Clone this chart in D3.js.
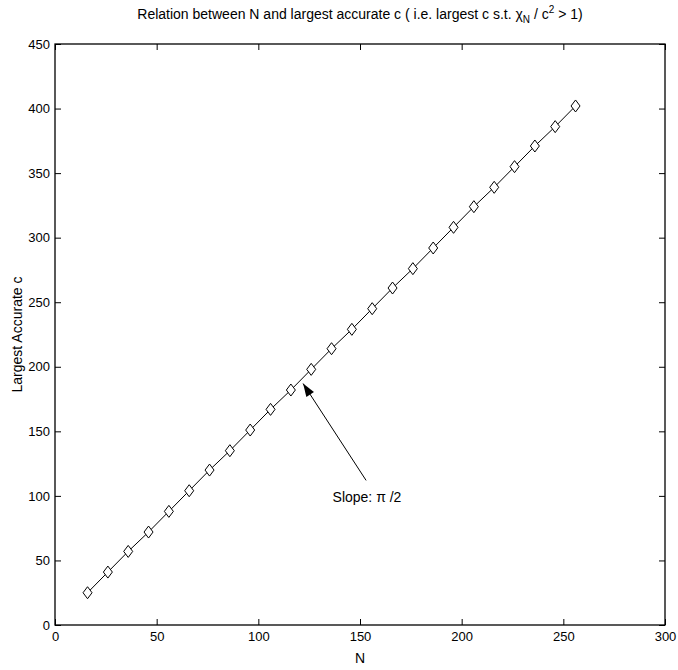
<!DOCTYPE html>
<html><head><meta charset="utf-8">
<script src="https://cdn.jsdelivr.net/npm/d3@7"></script>
<style>body{margin:0;background:#fff}svg{display:block}text{font-family:"Liberation Sans",Arial,sans-serif;fill:#000}</style>
</head><body><svg id="c" width="678" height="670"></svg>
<script>
const Nvals = [16,26,36,46,56,66,76,86,96,106,116,126,136,146,156,166,176,186,196,206,216,226,236,246,256];
const cVals = [25,41,57,72,88,104,120,135,151,167,182,198,214,229,245,261,276,292,308,324,339,355,371,386,402];
const xTicks = [0,50,100,150,200,250,300];
const yTicks = [0,50,100,150,200,250,300,350,400,450];

const W=678,H=670, L=55,R=665,T=44,B=625;
const svg=d3.select("#c");
svg.append("rect").attr("width",W).attr("height",H).attr("fill","#fff");
const x=d3.scaleLinear().domain([0,300]).range([L,R]);
const y=d3.scaleLinear().domain([0,450]).range([B,T]);

svg.append("rect").attr("x",L).attr("y",T).attr("width",R-L).attr("height",B-T)
  .attr("fill","none").attr("stroke","#000").attr("stroke-width",1.3);

const tl=6;
const gx=svg.append("g").attr("transform",`translate(0,${B})`)
  .call(d3.axisBottom(x).tickValues(xTicks).tickSizeInner(-tl).tickSizeOuter(0).tickPadding(7));
const gxt=svg.append("g").attr("transform",`translate(0,${T})`)
  .call(d3.axisTop(x).tickValues(xTicks).tickSizeInner(-tl).tickSizeOuter(0).tickFormat(""));
const gy=svg.append("g").attr("transform",`translate(${L},0)`)
  .call(d3.axisLeft(y).tickValues(yTicks).tickSizeInner(-tl).tickSizeOuter(0).tickPadding(5));
const gyr=svg.append("g").attr("transform",`translate(${R},0)`)
  .call(d3.axisRight(y).tickValues(yTicks).tickSizeInner(-tl).tickSizeOuter(0).tickFormat(""));
[gx,gxt,gy,gyr].forEach(g=>{g.select(".domain").remove();g.selectAll("line").attr("stroke","#000");
  g.selectAll("text").attr("font-size",13).attr("font-family","Liberation Sans, Arial, sans-serif");});
gx.selectAll("text").attr("dy","0.71em");

svg.append("path").datum(Nvals.map((n,i)=>[n,cVals[i]]))
  .attr("d",d3.line().x(d=>x(d[0])).y(d=>y(d[1])))
  .attr("fill","none").attr("stroke","#000").attr("stroke-width",1);
const dw=4.5, dh=6;
svg.selectAll("path.m").data(Nvals.map((n,i)=>[n,cVals[i]])).enter().append("path")
  .attr("class","m")
  .attr("d",d=>{const cx=x(d[0]),cy=y(d[1]);return `M${cx},${cy-dh}L${cx+dw},${cy}L${cx},${cy+dh}L${cx-dw},${cy}Z`;})
  .attr("fill","#fff").attr("stroke","#000").attr("stroke-width",1);

const tail=[153,112], tip=[122,187];
const tx=x(tail[0]),ty=y(tail[1]),hx=x(tip[0]),hy=y(tip[1]);
svg.append("line").attr("x1",tx).attr("y1",ty).attr("x2",hx).attr("y2",hy).attr("stroke","#000").attr("stroke-width",1);
const ang=Math.atan2(hy-ty,hx-tx), al=13, aw=4.5;
const bx=hx-al*Math.cos(ang), by=hy-al*Math.sin(ang);
svg.append("path").attr("d",`M${hx},${hy}L${bx+aw*Math.sin(ang)},${by-aw*Math.cos(ang)}L${bx-aw*Math.sin(ang)},${by+aw*Math.cos(ang)}Z`).attr("fill","#000");
svg.append("text").attr("x",x(136.5)).attr("y",y(95)).attr("font-size",14).text("Slope:  π /2");

const t=svg.append("text").attr("x",(L+R)/2).attr("y",19).attr("text-anchor","middle").attr("font-size",14);
t.append("tspan").text("Relation between N and largest accurate c ( i.e. largest c s.t. χ");
t.append("tspan").attr("font-size",10).attr("dy",4).text("N");
t.append("tspan").attr("dy",-4).text(" / c");
t.append("tspan").attr("font-size",10).attr("dy",-6).text("2");
t.append("tspan").attr("dy",6).text(" > 1)");

svg.append("text").attr("x",(L+R)/2).attr("y",663).attr("text-anchor","middle").attr("font-size",14).text("N");
svg.append("text").attr("transform",`translate(22,${(T+B)/2}) rotate(-90)`).attr("text-anchor","middle").attr("font-size",14).text("Largest Accurate c");
</script></body></html>
